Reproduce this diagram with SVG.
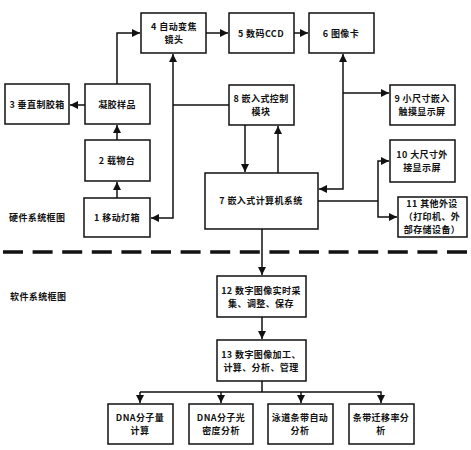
<svg xmlns="http://www.w3.org/2000/svg" width="471" height="450" viewBox="0 0 471 450">
<style>
.b{fill:#fff;stroke:#111;stroke-width:1.5}
.t{font-family:"Noto Sans CJK SC","Noto Sans",sans-serif;font-size:9px;font-weight:bold;fill:#111;text-anchor:middle;letter-spacing:0.4px}
.l{font-family:"Noto Sans CJK SC","Noto Sans",sans-serif;font-size:9px;font-weight:bold;fill:#111;letter-spacing:0.4px}
.c{fill:none;stroke:#111;stroke-width:1.5}
.a{marker-end:url(#ar)}
</style>
<defs>
<marker id="ar" markerUnits="userSpaceOnUse" markerWidth="9" markerHeight="8" refX="8" refY="4" orient="auto">
<path d="M0,0 L8,4 L0,8 z" fill="#111"/>
</marker>
</defs>
<rect width="471" height="450" fill="#fff"/>
<g id="connectors">
<path class="c a" d="M85,105 H70"/>
<path class="c a" d="M117,84 V33 H140"/>
<path class="c a" d="M117,198 V182"/>
<path class="c a" d="M117,140 V125"/>
<path class="c" d="M229,105 H173"/>
<path class="c a" d="M173,105 V54"/>
<path class="c a" d="M173,105 V218 H151"/>
<path class="c a" d="M206,33 H228"/>
<path class="c a" d="M294,33 H308"/>
<path class="c a" d="M245,125 V172"/>
<path class="c a" d="M278,173 V126"/>
<path class="c a" d="M343,93 V54"/>
<path class="c a" d="M343,93 H389"/>
<path class="c a" d="M343,93 V189 H319"/>
<path class="c" d="M318,201 H378"/>
<path class="c a" d="M378,201 V161 H389"/>
<path class="c a" d="M378,201 V217 H397"/>
<path class="c a" d="M262,229 V275"/>
<path class="c a" d="M262,317 V339"/>
<path class="c" d="M262,381 V392"/>
<path class="c a" d="M140,392 H381 V403"/>
<path class="c a" d="M140,392 V403"/>
<path class="c a" d="M221,392 V403"/>
<path class="c a" d="M301,392 V403"/>
</g>
<line x1="3" y1="252" x2="471" y2="252" stroke="#111" stroke-width="3.5" stroke-dasharray="20 9.6"/>
<text class="l" x="9" y="221">硬件系统框图</text>
<text class="l" x="10" y="300">软件系统框图</text>
<g id="n4"><rect class="b" x="141" y="13" width="65" height="40"/><text class="t" x="174" y="30">4 自动变焦</text><text class="t" x="174" y="43">镜头</text></g>
<g id="n5"><rect class="b" x="229" y="13" width="65" height="40"/><text class="t" x="261" y="36.5">5 数码CCD</text></g>
<g id="n6"><rect class="b" x="309" y="13" width="65" height="40"/><text class="t" x="341" y="36.5">6 图像卡</text></g>
<g id="n3"><rect class="b" x="5" y="84" width="64" height="40"/><text class="t" x="37" y="107.5">3 垂直制胶箱</text></g>
<g id="gel"><rect class="b" x="85" y="84" width="65" height="40"/><text class="t" x="117" y="107.5">凝胶样品</text></g>
<g id="n8"><rect class="b" x="229" y="85" width="65" height="40"/><text class="t" x="261" y="102">8 嵌入式控制</text><text class="t" x="261" y="115">模块</text></g>
<g id="n9"><rect class="b" x="390" y="85" width="65" height="40"/><text class="t" x="422" y="102">9 小尺寸嵌入</text><text class="t" x="422" y="115">触摸显示屏</text></g>
<g id="n2"><rect class="b" x="85" y="140" width="65" height="41"/><text class="t" x="117" y="164">2 载物台</text></g>
<g id="n10"><rect class="b" x="390" y="140" width="65" height="42"/><text class="t" x="422" y="158">10 大尺寸外</text><text class="t" x="422" y="171">接显示屏</text></g>
<g id="n7"><rect class="b" x="205" y="173" width="113" height="56"/><text class="t" x="261" y="204">7 嵌入式计算机系统</text></g>
<g id="n1"><rect class="b" x="84" y="198" width="66" height="39"/><text class="t" x="117" y="221">1 移动灯箱</text></g>
<g id="n11"><rect class="b" x="398" y="197" width="69" height="40"/><text class="t" x="432" y="207">11 其他外设</text><text class="t" x="432" y="220">（打印机、外</text><text class="t" x="432" y="233">部存储设备）</text></g>
<g id="n12"><rect class="b" x="217" y="276" width="89" height="41"/><text class="t" x="261" y="294">12 数字图像实时采</text><text class="t" x="261" y="307">集、调整、保存</text></g>
<g id="n13"><rect class="b" x="217" y="340" width="89" height="41"/><text class="t" x="261" y="358">13 数字图像加工、</text><text class="t" x="261" y="371">计算、分析、管理</text></g>
<g id="nA"><rect class="b" x="108" y="404" width="65" height="40"/><text class="t" x="140" y="421">DNA分子量</text><text class="t" x="140" y="434">计算</text></g>
<g id="nB"><rect class="b" x="189" y="404" width="64" height="40"/><text class="t" x="221" y="421">DNA分子光</text><text class="t" x="221" y="434">密度分析</text></g>
<g id="nC"><rect class="b" x="268" y="404" width="65" height="40"/><text class="t" x="300" y="421">泳道条带自动</text><text class="t" x="300" y="434">分析</text></g>
<g id="nD"><rect class="b" x="349" y="404" width="65" height="40"/><text class="t" x="381" y="421">条带迁移率分</text><text class="t" x="381" y="434">析</text></g>
</svg>
